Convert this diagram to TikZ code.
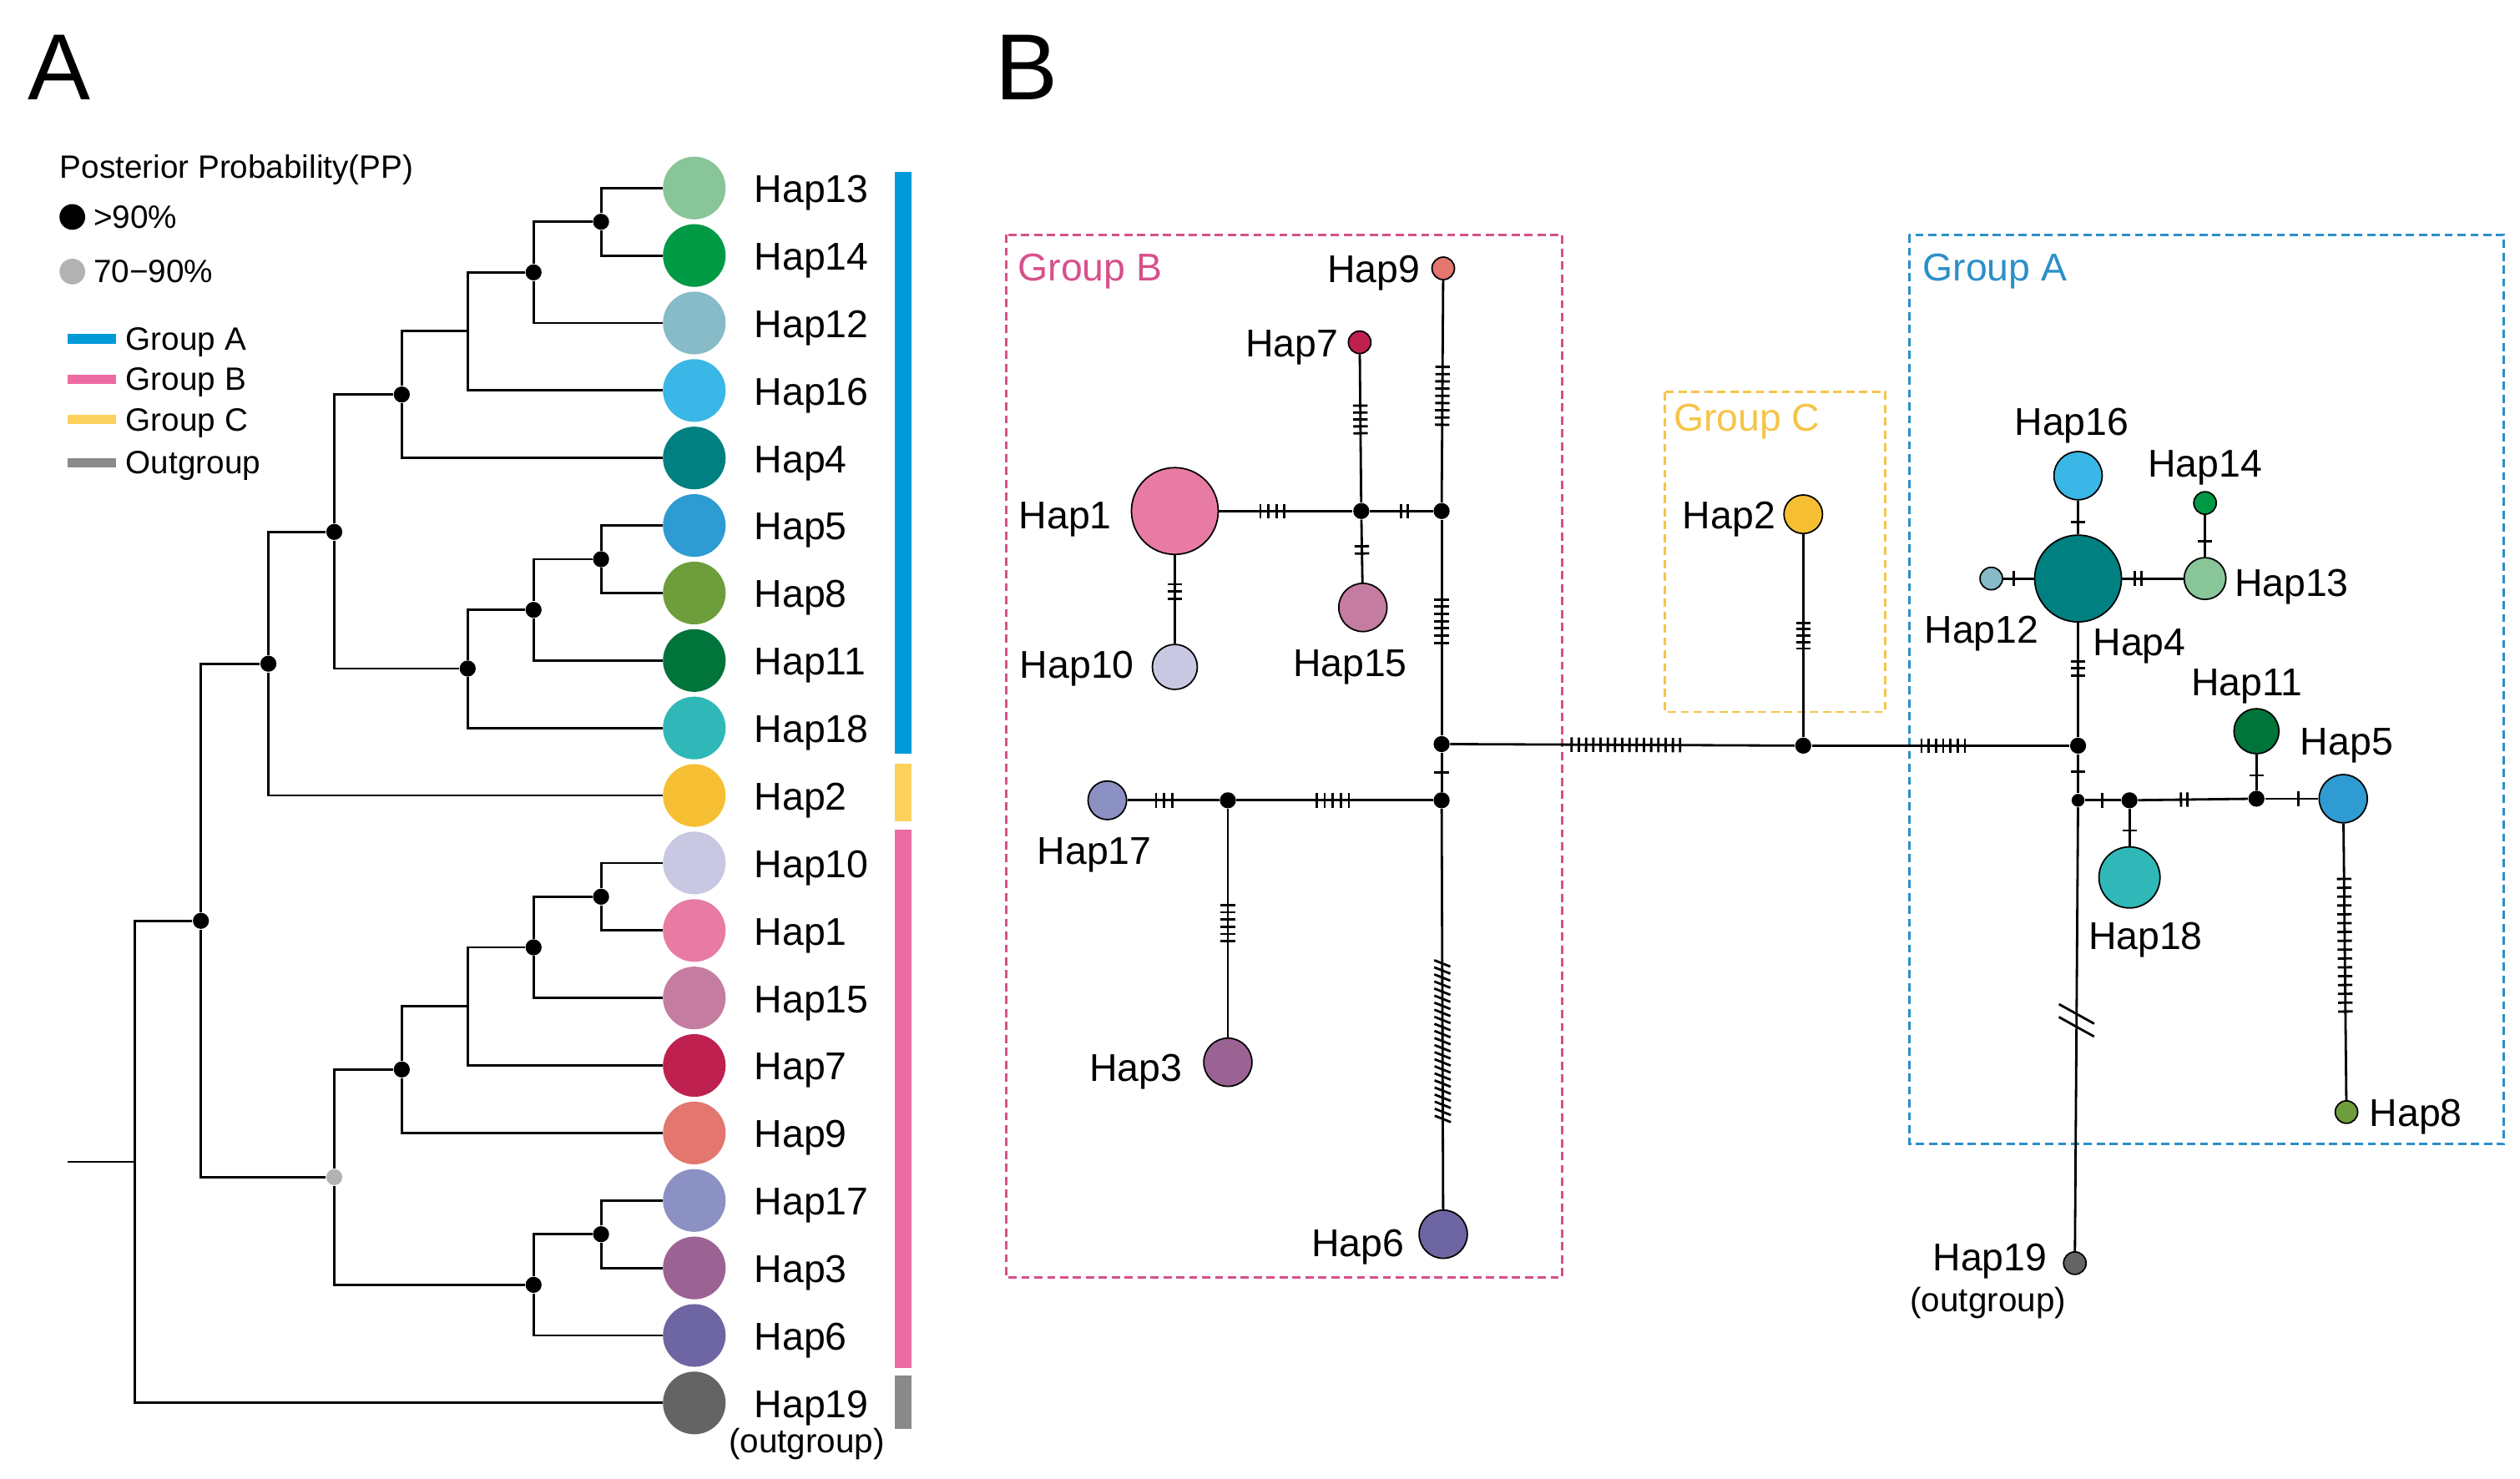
\documentclass[tikz,border=0pt]{standalone}
\usepackage{fontspec}
\setmainfont{Liberation Sans}
\usetikzlibrary{decorations.markings}

% haplotype colours
\definecolor{cHap1}{HTML}{E87BA3}
\definecolor{cHap2}{HTML}{F6BF33}
\definecolor{cHap3}{HTML}{9B6393}
\definecolor{cHap4}{HTML}{008080}
\definecolor{cHap5}{HTML}{2E9BD2}
\definecolor{cHap6}{HTML}{6E66A2}
\definecolor{cHap7}{HTML}{BE2150}
\definecolor{cHap8}{HTML}{6E9E3C}
\definecolor{cHap9}{HTML}{E3766F}
\definecolor{cHap10}{HTML}{C8C8E2}
\definecolor{cHap11}{HTML}{00743A}
\definecolor{cHap12}{HTML}{86BBC7}
\definecolor{cHap13}{HTML}{88C598}
\definecolor{cHap14}{HTML}{009A44}
\definecolor{cHap15}{HTML}{C47DA0}
\definecolor{cHap16}{HTML}{3AB7E6}
\definecolor{cHap17}{HTML}{8C91C3}
\definecolor{cHap18}{HTML}{30B8B8}
\definecolor{cHap19}{HTML}{646464}
% group colours
\definecolor{grpA}{HTML}{009AD8}
\definecolor{grpB}{HTML}{EC6BA3}
\definecolor{grpC}{HTML}{FCD15D}
\definecolor{grpO}{HTML}{8A8A8A}
\definecolor{boxA}{HTML}{2B8FC8}
\definecolor{boxB}{HTML}{D6508B}
\definecolor{boxC}{HTML}{F5C449}

\tikzset{
  branch/.style={line width=0.8pt},
  link/.style={line width=0.8pt},
  leaf/.style={circle, fill=#1, inner sep=0pt, minimum size={39*0.01925cm}},
  hap/.style 2 args={circle, draw, line width=0.5pt, fill=#1, inner sep=0pt, minimum size={2*#2*0.01925cm}},
  pp/.style={circle, fill=black, inner sep=0pt, minimum size={10*0.01925cm}},
  ppg/.style={circle, fill=black!30, inner sep=0pt, minimum size={10*0.01925cm}},
  mv/.style={circle, fill=black, inner sep=0pt, minimum size={10*0.01925cm}},
  mvs/.style={circle, fill=black, inner sep=0pt, minimum size={8*0.01925cm}},
  hlab/.style={font=\fontsize{13.2}{15}\selectfont, inner sep=0pt},
  olab/.style={font=\fontsize{11.5}{13}\selectfont, inner sep=0pt},
  legtxt/.style={font=\fontsize{11}{13}\selectfont, inner sep=0pt},
  panel/.style={font=\fontsize{32}{36}\selectfont, inner sep=0pt},
  grpbox/.style={line width=0.8pt, dash pattern=on 2.8pt off 1.6pt},
  % mutation ticks: position, count, spacing
  muts/.style n args={3}{postaction={decorate, decoration={markings,
    mark=at position #1 with {\foreach \k in {1,...,#2}{\draw[line width=0.8pt] ({(\k-(#2+1)/2)*#3},-4.5) -- ++(0,9);}}}}},
  slants/.style n args={3}{postaction={decorate, decoration={markings,
    mark=at position #1 with {\foreach \k in {1,...,#2}{\draw[line width=0.8pt] ({(\k-(#2+1)/2)*#3-2},5) -- ++(4,-10);}}}}},
  brk/.style={postaction={decorate, decoration={markings,
    mark=at position #1 with {\draw[line width=0.8pt] (-10,11) -- (2,-11); \draw[line width=0.8pt] (-2,11) -- (10,-11);}}}},
}

\begin{document}
\begin{tikzpicture}[x=0.01925cm, y=-0.01925cm]
	\useasboundingbox (0,0) rectangle (1568,920);
	%panel letters
	\node[panel, anchor=base] (labA) at (37,62) {A};
	\node[panel, anchor=base] (labB) at (639,62) {B};

	%legend
	\node[legtxt, anchor=base west] (legpp) at (37,111) {Posterior Probability(PP)};
	\node[pp, minimum size={16*0.01925cm}] (keyhi) at (45,135) {};
	\node[legtxt, anchor=base west] (lhi) at (58,142) {>90\%};
	\node[ppg, minimum size={16*0.01925cm}] (keymid) at (45,169) {};
	\node[legtxt, anchor=base west] (lmid) at (58,176) {70−90\%};
	\draw[grpA, line width=3.3pt] (42,211) -- (72,211);
	\node[legtxt, anchor=base west] (lgA) at (78,218) {Group A};
	\draw[grpB, line width=3.3pt] (42,236) -- (72,236);
	\node[legtxt, anchor=base west] (lgB) at (78,243) {Group B};
	\draw[grpC, line width=3.3pt] (42,261) -- (72,261);
	\node[legtxt, anchor=base west] (lgC) at (78,268) {Group C};
	\draw[grpO, line width=3.3pt] (42,288) -- (72,288);
	\node[legtxt, anchor=base west] (lgO) at (78,295) {Outgroup};

	%tree tips
	\foreach \h [count=\i from 0] in {13,14,12,16,4,5,8,11,18,2,10,1,15,7,9,17,3,6,19}{
		\node[leaf=cHap\h] (t\h) at (432,{117+42*\i}) {};
		\node[hlab, anchor=base west] (l\h) at (469,{126+42*\i}) {Hap\h};
	}
	\node[olab, anchor=base] (ltout) at (502,904) {(outgroup)};
	%group bars
	\fill[grpA] (557,107) rectangle (567,469);
	\fill[grpC] (557,475) rectangle (567,511);
	\fill[grpB] (557,516) rectangle (567,851);
	\fill[grpO] (557,856) rectangle (567,889);

	%tree nodes
	\node[pp] (n1) at (374,138) {};
	\node[pp] (n2) at (332,169.5) {};
	\coordinate (n3) at (291,206);
	\node[pp] (n4) at (250,245.5) {};
	\node[pp] (n5) at (374,348) {};
	\node[pp] (n6) at (332,379.5) {};
	\node[pp] (n7) at (291,416) {};
	\node[pp] (n8) at (208,331) {};
	\node[pp] (n9) at (167,413) {};
	\node[pp] (n10) at (374,558) {};
	\node[pp] (n11) at (332,589.5) {};
	\coordinate (n12) at (291,626);
	\node[pp] (n13) at (250,665.5) {};
	\node[pp] (n14) at (374,768) {};
	\node[pp] (n15) at (332,799.5) {};
	\node[ppg] (n16) at (208,732.5) {};
	\node[pp] (n17) at (125,573) {};
	\coordinate (rt) at (84,723);
	\coordinate (rtstub) at (42,723);
	%tree branches
	\draw[branch] (n1) |- (t13) (n1) |- (t14);
	\draw[branch] (n2) |- (n1) (n2) |- (t12);
	\draw[branch] (n3) |- (n2) (n3) |- (t16);
	\draw[branch] (n4) |- (n3) (n4) |- (t4);
	\draw[branch] (n5) |- (t5) (n5) |- (t8);
	\draw[branch] (n6) |- (n5) (n6) |- (t11);
	\draw[branch] (n7) |- (n6) (n7) |- (t18);
	\draw[branch] (n8) |- (n4) (n8) |- (n7);
	\draw[branch] (n9) |- (n8) (n9) |- (t2);
	\draw[branch] (n10) |- (t10) (n10) |- (t1);
	\draw[branch] (n11) |- (n10) (n11) |- (t15);
	\draw[branch] (n12) |- (n11) (n12) |- (t7);
	\draw[branch] (n13) |- (n12) (n13) |- (t9);
	\draw[branch] (n14) |- (t17) (n14) |- (t3);
	\draw[branch] (n15) |- (n14) (n15) |- (t6);
	\draw[branch] (n16) |- (n13) (n16) |- (n15);
	\draw[branch] (n17) |- (n9) (n17) |- (n16);
	\draw[branch] (rt) |- (n17) (rt) |- (t19);
	\draw[branch] (rtstub) -- (rt);

	%group boxes
	\draw[grpbox, boxB] (626,146) rectangle (972,795);
	\node[hlab, boxB, anchor=base west] (gB) at (633,175) {Group B};
	\draw[grpbox, boxC] (1036,244) rectangle (1173,443);
	\node[hlab, boxC, anchor=base west] (gC) at (1041,268) {Group C};
	\draw[grpbox, boxA] (1188,146) rectangle (1558,712);
	\node[hlab, boxA, anchor=base west] (gA) at (1196,175) {Group A};

	%network: group B
	\node[hap={cHap9}{7}] (h9) at (898,167) {};
	\node[hap={cHap7}{7}] (h7) at (846,213) {};
	\node[hap={cHap1}{27}] (h1) at (731,318) {};
	\node[hap={cHap10}{14}] (h10) at (731,415) {};
	\node[hap={cHap15}{15}] (h15) at (848,378) {};
	\node[hap={cHap17}{12}] (h17) at (689,498) {};
	\node[hap={cHap3}{15}] (h3) at (764,661) {};
	\node[hap={cHap6}{15}] (h6) at (898,768) {};
	\node[mv] (v1) at (847,318) {};
	\node[mv] (v2) at (897,318) {};
	\node[mv] (v3) at (897,463) {};
	\node[mv] (v4) at (897,498) {};
	\node[mv] (v5) at (764,498) {};
	%network: group C
	\node[hap={cHap2}{12}] (h2) at (1122,320) {};
	\node[mv] (j1) at (1122,464) {};
	%network: group A
	\node[hap={cHap4}{27}] (h4) at (1293,360) {};
	\node[hap={cHap16}{15}] (h16) at (1293,296) {};
	\node[hap={cHap12}{7}] (h12) at (1239,360) {};
	\node[hap={cHap13}{13}] (h13) at (1372,360) {};
	\node[hap={cHap14}{7}] (h14) at (1372,313) {};
	\node[hap={cHap18}{19}] (h18) at (1325,546) {};
	\node[hap={cHap11}{14}] (h11) at (1404,455) {};
	\node[hap={cHap5}{15}] (h5) at (1458,497) {};
	\node[hap={cHap8}{7}] (h8) at (1460,692) {};
	\node[hap={cHap19}{7}] (h19) at (1291,786) {};
	\node[mv] (j2) at (1293,464) {};
	\node[mvs] (j3) at (1293,498) {};
	\node[mv] (j4) at (1325,498) {};
	\node[mv] (j5) at (1404,497) {};

	%network links
	\draw[link, muts={0.52}{9}{4.5}] (h9) -- (v2);
	\draw[link, muts={0.44}{5}{4.3}] (h7) -- (v1);
	\draw[link, muts={0.40}{4}{5}] (h1) -- (v1);
	\draw[link, muts={0.55}{2}{4}] (v1) -- (v2);
	\draw[link, muts={0.48}{2}{4.5}] (v1) -- (h15);
	\draw[link, muts={0.41}{3}{4.5}] (h1) -- (h10);
	\draw[link, muts={0.47}{7}{4.5}] (v2) -- (v3);
	\draw[link, muts={0.5}{1}{4.5}] (v3) -- (v4);
	\draw[link, muts={0.51}{16}{4.5}] (v3) -- (j1);
	\draw[link, muts={0.49}{5}{5}] (v5) -- (v4);
	\draw[link, muts={0.40}{3}{5}] (h17) -- (v5);
	\draw[link, muts={0.50}{6}{4.5}] (v5) -- (h3);
	\draw[link, slants={0.58}{23}{4.4}] (v4) -- (h6);
	\draw[link, muts={0.5}{5}{4}] (h2) -- (j1);
	\draw[link, muts={0.51}{7}{4.5}] (j1) -- (j2);
	\draw[link, muts={0.64}{1}{4}] (h16) -- (h4);
	\draw[link, muts={0.35}{1}{4}] (h12) -- (h4);
	\draw[link, muts={0.26}{2}{4}] (h4) -- (h13);
	\draw[link, muts={0.63}{1}{4}] (h14) -- (h13);
	\draw[link, muts={0.40}{3}{4.5}] (h4) -- (j2);
	\draw[link, muts={0.44}{1}{4}] (j2) -- (j3);
	\draw[link, muts={0.48}{1}{4}] (j3) -- (j4);
	\draw[link, muts={0.58}{1}{4}] (j4) -- (h18);
	\draw[link, muts={0.42}{2}{4}] (j4) -- (j5);
	\draw[link, muts={0.41}{1}{4}] (j5) -- (h11);
	\draw[link, muts={0.62}{1}{4}] (j5) -- (h5);
	\draw[link, muts={0.44}{16}{5.5}] (h5) -- (h8);
	\draw[link, brk=0.48] (j3) -- (h19);

	%network labels
	\node[hlab, anchor=base east] (lh9) at (884,176) {Hap9};
	\node[hlab, anchor=base east] (lh7) at (833,222) {Hap7};
	\node[hlab, anchor=base east] (lh1) at (692,329) {Hap1};
	\node[hlab, anchor=base east] (lh10) at (706,422) {Hap10};
	\node[hlab, anchor=base] (lh15) at (840,421) {Hap15};
	\node[hlab, anchor=base] (lh17) at (681,538) {Hap17};
	\node[hlab, anchor=base east] (lh3) at (736,673) {Hap3};
	\node[hlab, anchor=base east] (lh6) at (874,782) {Hap6};
	\node[hlab, anchor=base east] (lh2) at (1105,329) {Hap2};
	\node[hlab, anchor=base] (lh16) at (1289,271) {Hap16};
	\node[hlab, anchor=base] (lh14) at (1372,297) {Hap14};
	\node[hlab, anchor=base] (lh12) at (1233,400) {Hap12};
	\node[hlab, anchor=base west] (lh13) at (1390,371) {Hap13};
	\node[hlab, anchor=base west] (lh4) at (1302,408) {Hap4};
	\node[hlab, anchor=base] (lh11) at (1398,433) {Hap11};
	\node[hlab, anchor=base west] (lh5) at (1431,470) {Hap5};
	\node[hlab, anchor=base] (lh18) at (1335,591) {Hap18};
	\node[hlab, anchor=base west] (lh8) at (1474,701) {Hap8};
	\node[hlab, anchor=base east] (lh19) at (1274,791) {Hap19};
	\node[olab, anchor=base] (lhout) at (1237,816) {(outgroup)};
\end{tikzpicture}
\end{document}
